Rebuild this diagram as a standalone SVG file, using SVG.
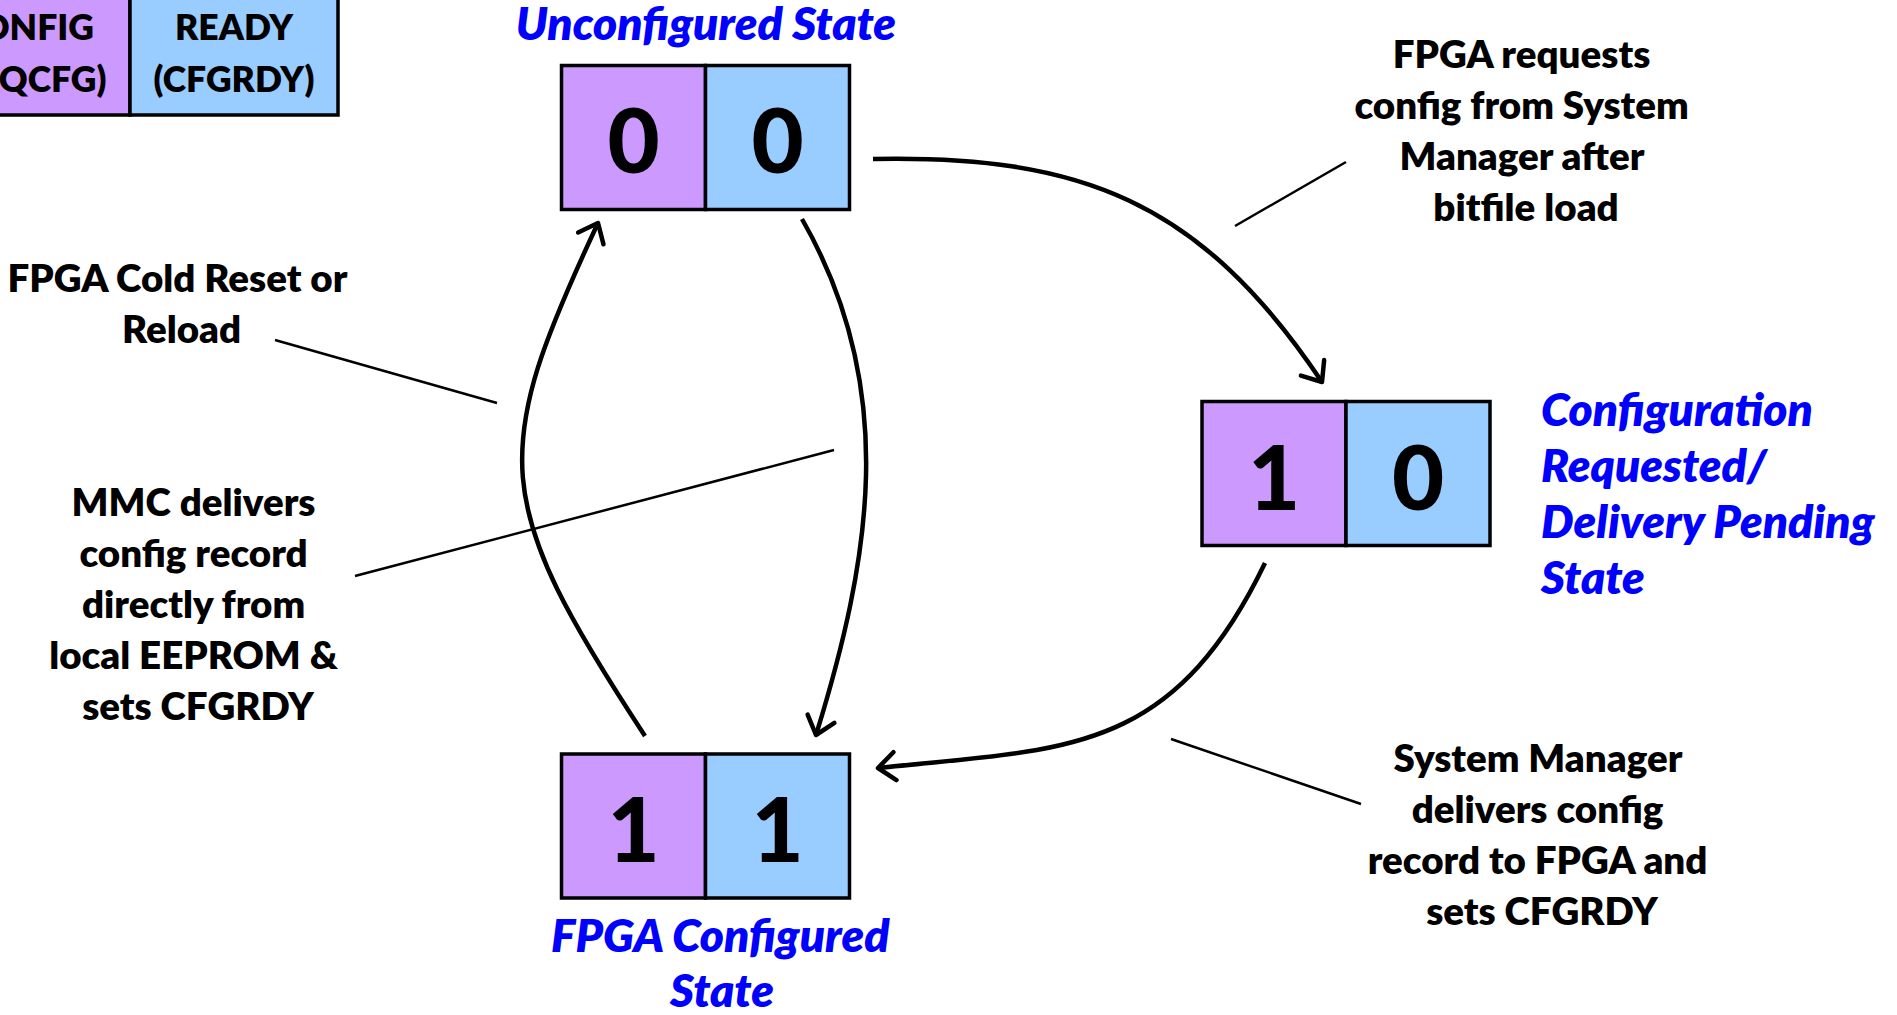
<svg xmlns="http://www.w3.org/2000/svg" width="1897" height="1015" viewBox="0 0 1897 1015">
  <style>
    .cell { stroke: #000; stroke-width: 3.5; }
    .req { fill: #CC99FF; }
    .rdy { fill: #99CCFF; }
    .digit { font-family: Lato, "Liberation Sans", sans-serif; font-weight: 900; font-size: 90px; fill: #000; text-anchor: middle; }
    .state { font-family: Lato, "Liberation Sans", sans-serif; font-weight: 800; font-style: italic; font-size: 46px; fill: #0000FF; }
    .note { font-family: Lato, "Liberation Sans", sans-serif; font-weight: 800; font-size: 38.5px; fill: #000; text-anchor: middle; }
    .legend { font-family: Lato, "Liberation Sans", sans-serif; font-weight: 800; font-size: 35.5px; fill: #000; text-anchor: middle; }
    .edge { fill: none; stroke: #000; stroke-width: 4.5; }
    .leader { fill: none; stroke: #000; stroke-width: 2.5; }
  </style>
  <defs>
    <marker id="vhead" markerUnits="userSpaceOnUse" markerWidth="40" markerHeight="40" viewBox="-20 -20 40 40" refX="0" refY="0" orient="auto" overflow="visible">
      <path d="M -17,-14 L 0,0 L -17,14" fill="none" stroke="#000" stroke-width="4.5" stroke-linecap="round" stroke-linejoin="round"/>
    </marker>
  </defs>

  <rect width="1897" height="1015" fill="#fff"/>

  <!-- Legend: bit meanings (partly off the left/top edge) -->
  <g id="legend">
    <rect class="cell req" x="-80" y="-10" width="210" height="125"/>
    <rect class="cell rdy" x="130" y="-10" width="208" height="125"/>
    <text class="legend" x="26" y="40">CONFIG</text>
    <text class="legend" x="26" y="92">(REQCFG)</text>
    <text class="legend" x="234" y="40">READY</text>
    <text class="legend" x="234" y="92">(CFGRDY)</text>
  </g>

  <!-- State 00 -->
  <g id="state-unconfigured">
    <rect class="cell req" x="561.5" y="65.5" width="144" height="144"/>
    <rect class="cell rdy" x="705.5" y="65.5" width="144" height="144"/>
    <text class="digit" x="633.5" y="173">0</text>
    <text class="digit" x="777.5" y="173">0</text>
    <text class="state" x="706" y="39.5" text-anchor="middle">Unconfigured State</text>
  </g>

  <!-- State 10 -->
  <g id="state-requested">
    <rect class="cell req" x="1202" y="401.5" width="144" height="144"/>
    <rect class="cell rdy" x="1346" y="401.5" width="144" height="144"/>
    <text class="digit" x="1274" y="509.5">1</text>
    <text class="digit" x="1418" y="509.5">0</text>
    <text class="state" x="1541">
      <tspan x="1541" y="425.5">Configuration</tspan>
      <tspan x="1541" y="481.5">Requested/</tspan>
      <tspan x="1541" y="537.5">Delivery Pending</tspan>
      <tspan x="1541" y="593.5">State</tspan>
    </text>
  </g>

  <!-- State 11 -->
  <g id="state-configured">
    <rect class="cell req" x="561.5" y="754" width="144" height="144"/>
    <rect class="cell rdy" x="705.5" y="754" width="144" height="144"/>
    <text class="digit" x="633.5" y="861.5">1</text>
    <text class="digit" x="777.5" y="861.5">1</text>
    <text class="state" text-anchor="middle">
      <tspan x="725" y="951.5">FPGA Configured</tspan>
      <tspan x="722" y="1006.5">State</tspan>
    </text>
  </g>

  <!-- Transition notes -->
  <g id="note-request">
    <text class="note">
      <tspan x="1526" y="67.5">FPGA requests</tspan>
      <tspan x="1526" y="118.5">config from System</tspan>
      <tspan x="1526" y="169.5">Manager after</tspan>
      <tspan x="1526" y="220.5">bitfile load</tspan>
    </text>
  </g>
  <g id="note-deliver">
    <text class="note">
      <tspan x="1542" y="772">System Manager</tspan>
      <tspan x="1542" y="823">delivers config</tspan>
      <tspan x="1542" y="874">record to FPGA and</tspan>
      <tspan x="1542" y="925">sets CFGRDY</tspan>
    </text>
  </g>
  <g id="note-reset">
    <text class="note">
      <tspan x="181.5" y="292">FPGA Cold Reset or</tspan>
      <tspan x="181.5" y="343">Reload</tspan>
    </text>
  </g>
  <g id="note-local">
    <text class="note">
      <tspan x="198" y="516">MMC delivers</tspan>
      <tspan x="198" y="567">config record</tspan>
      <tspan x="198" y="618">directly from</tspan>
      <tspan x="198" y="669">local EEPROM &amp;</tspan>
      <tspan x="198" y="720">sets CFGRDY</tspan>
    </text>
  </g>

  <!-- Transitions and callout leaders -->
  <g id="connectors">
    <path class="edge" d="M 873,159 C 1080,155 1200,200 1322,382" marker-end="url(#vhead)"/>
    <path class="edge" d="M 1265,563 C 1170,760 1060,748 878,768" marker-end="url(#vhead)"/>
    <path class="edge" d="M 802,219 C 900,390 870,560 816,735" marker-end="url(#vhead)"/>
    <path class="edge" d="M 645,736 C 490,500 490,454 598,223" marker-end="url(#vhead)"/>

    <line class="leader" x1="1235" y1="226" x2="1346" y2="162"/>
    <line class="leader" x1="275" y1="340" x2="497" y2="403"/>
    <line class="leader" x1="355" y1="576" x2="834" y2="450"/>
    <line class="leader" x1="1171" y1="739" x2="1361" y2="804"/>
  </g>
</svg>
